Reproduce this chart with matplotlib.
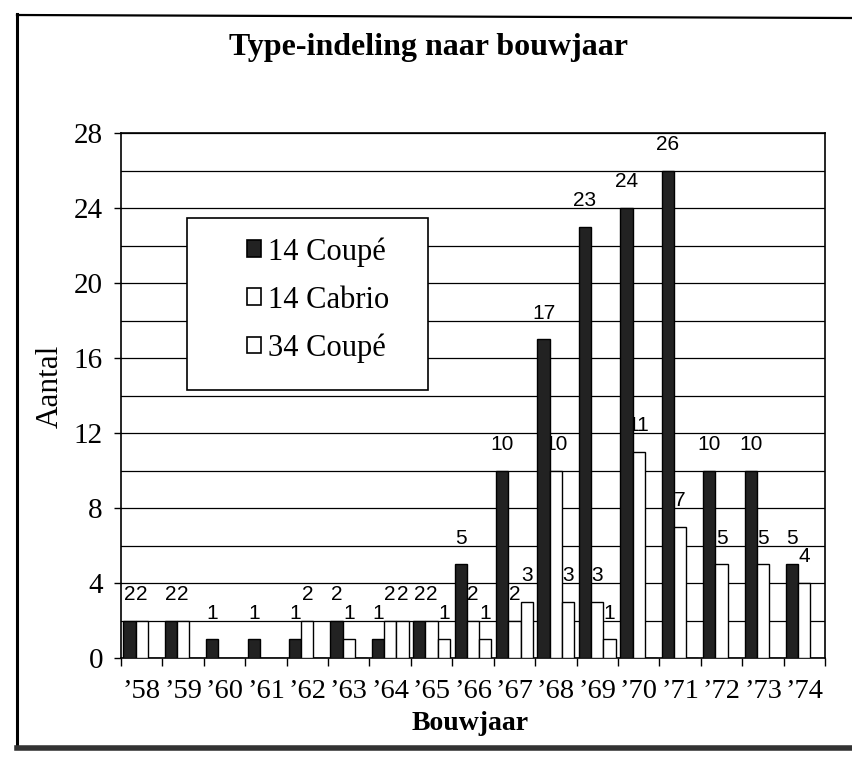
import matplotlib
matplotlib.use("Agg")
import matplotlib.pyplot as plt
import numpy as np
from matplotlib.patches import Rectangle, Patch
from matplotlib.lines import Line2D

years = ["\u201958", "\u201959", "\u201960", "\u201961", "\u201962", "\u201963",
         "\u201964", "\u201965", "\u201966", "\u201967", "\u201968", "\u201969",
         "\u201970", "\u201971", "\u201972", "\u201973", "\u201974"]
coupe14 = [2, 2, 1, 1, 1, 2, 1, 2, 5, 10, 17, 23, 24, 26, 10, 10, 5]
cabrio14 = [2, 2, 0, 0, 2, 1, 2, 2, 2, 2, 10, 3, 11, 7, 5, 5, 4]
coupe34 = [0, 0, 0, 0, 0, 0, 2, 1, 1, 3, 3, 1, 0, 0, 0, 0, 0]
series_names = ["14 Coupé", "14 Cabrio", "34 Coupé"]
yticks = [0, 4, 8, 12, 16, 20, 24, 28]

W, H = 852, 764
fig = plt.figure(figsize=(W / 100, H / 100), dpi=100)
serif = "Liberation Serif"
sans = "Liberation Sans"
dark = "#222222"

# outer chart frame (scanned look)
fig.add_artist(Line2D([17 / W, 17 / W], [1 - 14 / H, 1 - 748 / H], color="black", lw=2.2))
fig.add_artist(Line2D([17 / W, 1.0], [1 - 15 / H, 1 - 18 / H], color="black", lw=1.6))
fig.add_artist(Line2D([17 / W, 1.0], [1 - 748 / H, 1 - 748 / H], color="#333333", lw=4))

left, right, top, bottom = 121, 825, 133, 658
ax = fig.add_axes([left / W, 1 - bottom / H, (right - left) / W, (bottom - top) / H])
ax.set_axisbelow(True)

x = np.arange(len(years))
w = 0.295
all_series = [coupe14, cabrio14, coupe34]
colors = [dark, "white", "white"]
for i, (vals, col) in enumerate(zip(all_series, colors)):
    pos = x + (i - 1) * w
    ax.bar(pos, vals, width=w, color=col, edgecolor="black", linewidth=1.0, zorder=3)
    for xb, v in zip(pos, vals):
        if v > 0:
            ax.annotate(str(v), (xb, v), xytext=(0, 12), textcoords="offset points",
                        ha="center", va="bottom", fontsize=15, family=sans, zorder=2)

ax.set_xlim(-0.5, len(years) - 0.5)
ax.set_ylim(0, 28)
ax.set_yticks(yticks)
ax.set_yticklabels([str(t) for t in yticks], family=serif, fontsize=21)
ax.set_yticks(np.arange(0, 29, 2), minor=True)
ax.tick_params(axis="y", which="minor", length=0)
ax.tick_params(axis="y", which="major", length=5, width=1, pad=8, direction="out")
ax.grid(axis="y", which="both", color="black", lw=0.9)

ax.set_xticks(x)
ax.set_xticklabels(years, family=serif, fontsize=20.5)
ax.tick_params(axis="x", which="major", length=0, pad=15)
ax.set_xticks(np.arange(-0.5, len(years), 1), minor=True)
ax.tick_params(axis="x", which="minor", length=6, width=1, direction="out")

for s in ax.spines.values():
    s.set_color("black")
    s.set_linewidth(1.2)

fig.text(428 / W, 1 - 47 / H, "Type-indeling naar bouwjaar", ha="center", va="center",
         family=serif, fontsize=23, fontweight="bold")
fig.text(50 / W, 1 - 386 / H, "Aantal", ha="center", va="center", rotation=90,
         family=serif, fontsize=22.5)
fig.text(470 / W, 1 - 723 / H, "Bouwjaar", ha="center", va="center",
         family=serif, fontsize=20, fontweight="bold")

# legend box
lx0, lx1, ly0, ly1 = 187, 428, 218, 390
fig.add_artist(Rectangle((lx0 / W, 1 - ly1 / H), (lx1 - lx0) / W, (ly1 - ly0) / H,
                         transform=fig.transFigure, facecolor="white", edgecolor="black",
                         lw=1.2, zorder=5))
handles = [Patch(facecolor=c, edgecolor="black", lw=1.2) for c in colors]
leg = fig.legend(handles, series_names, loc="center", bbox_to_anchor=(318 / W, 1 - 300 / H),
                 frameon=False, prop={"family": serif, "size": 22}, handlelength=0.45,
                 handleheight=0.45, handletextpad=0.22, labelspacing=0.62)
leg.set_zorder(6)

fig.savefig("out.png", dpi=100)
